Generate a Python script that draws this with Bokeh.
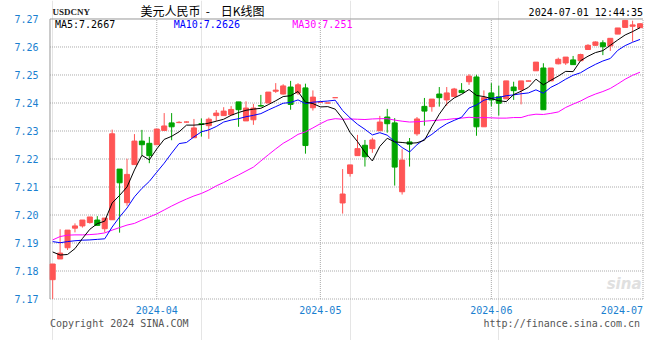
from bokeh.plotting import figure
from bokeh.models import ColumnDataSource, FixedTicker, Range1d, NumeralTickFormatter
from bokeh.core.properties import value
from bokeh.embed import file_html
from bokeh.resources import INLINE

# ---------------- data ----------------
month_ticks = [14, 36, 59]
month_labels = ["2024-04", "2024-05", "2024-06"]
last_month_label = "2024-07"
y_ticks = [7.17, 7.18, 7.19, 7.20, 7.21, 7.22, 7.23, 7.24, 7.25, 7.26, 7.27]

opens = [7.1769, 7.1843, 7.1883, 7.1953, 7.1961, 7.1973, 7.1982, 7.1951, 7.1983, 7.2164,
         7.2044, 7.2180, 7.2264, 7.2256, 7.2251, 7.2302, 7.2329, 7.2330, 7.2332, 7.2276,
         7.2326, 7.2319, 7.2355, 7.2355, 7.2358, 7.2404, 7.2336, 7.2340, 7.2391, 7.2400,
         7.2442, 7.2432, 7.2457, 7.2436, 7.2454, 7.2383, 7.2403, 7.2400, 7.2419, 7.2043,
         7.2148, 7.2212, 7.2249, 7.2237, 7.2301, 7.2350, 7.2329, 7.2083, 7.2261, 7.2290,
         7.2388, 7.2387, 7.2432, 7.2411, 7.2423, 7.2445, 7.2476, 7.2493, 7.2315, 7.2436,
         7.2422, 7.2415, 7.2457, 7.2448, 7.2478, 7.2515, 7.2525, 7.2479, 7.2540, 7.2543,
         7.2554, 7.2551, 7.2591, 7.2606, 7.2615, 7.2604, 7.2646, 7.2670, 7.2674, 7.2669]
highs = [7.1825, 7.1949, 7.1946, 7.1970, 7.1982, 7.1993, 7.1996, 7.1989, 7.2305, 7.2164,
         7.2201, 7.2289, 7.2304, 7.2279, 7.2307, 7.2364, 7.2364, 7.2335, 7.2334, 7.2343,
         7.2345, 7.2348, 7.2375, 7.2385, 7.2389, 7.2404, 7.2406, 7.2397, 7.2429, 7.2439,
         7.2471, 7.2467, 7.2479, 7.2471, 7.2469, 7.2445, 7.2403, 7.2400, 7.2419, 7.2164,
         7.2179, 7.2286, 7.2268, 7.2276, 7.2354, 7.2379, 7.2346, 7.2235, 7.2275, 7.2350,
         7.2418, 7.2414, 7.2457, 7.2457, 7.2454, 7.2471, 7.2503, 7.2501, 7.2445, 7.2471,
         7.2462, 7.2479, 7.2476, 7.2479, 7.2480, 7.2546, 7.2542, 7.2525, 7.2562, 7.2564,
         7.2568, 7.2576, 7.2610, 7.2620, 7.2624, 7.2631, 7.2668, 7.2695, 7.2694, 7.2685]
lows = [7.1700, 7.1843, 7.1875, 7.1938, 7.1955, 7.1969, 7.1963, 7.1938, 7.1983, 7.1937,
        7.2033, 7.2180, 7.2213, 7.2185, 7.2251, 7.2302, 7.2267, 7.2328, 7.2330, 7.2276,
        7.2280, 7.2272, 7.2336, 7.2355, 7.2358, 7.2315, 7.2336, 7.2322, 7.2387, 7.2400,
        7.2436, 7.2430, 7.2376, 7.2429, 7.2219, 7.2373, 7.2403, 7.2400, 7.2419, 7.2005,
        7.2137, 7.2212, 7.2173, 7.2222, 7.2301, 7.2294, 7.2105, 7.2073, 7.2173, 7.2283,
        7.2319, 7.2369, 7.2387, 7.2390, 7.2423, 7.2436, 7.2465, 7.2283, 7.2315, 7.2388,
        7.2355, 7.2415, 7.2411, 7.2395, 7.2478, 7.2515, 7.2376, 7.2479, 7.2538, 7.2536,
        7.2537, 7.2551, 7.2591, 7.2604, 7.2571, 7.2586, 7.2646, 7.2670, 7.2619, 7.2669]
closes = [7.1825, 7.1864, 7.1946, 7.1961, 7.1982, 7.1993, 7.1963, 7.1989, 7.2290, 7.2115,
          7.2145, 7.2264, 7.2251, 7.2212, 7.2307, 7.2318, 7.2315, 7.2331, 7.2332, 7.2311,
          7.2324, 7.2342, 7.2364, 7.2371, 7.2377, 7.2376, 7.2382, 7.2382, 7.2389, 7.2439,
          7.2446, 7.2461, 7.2395, 7.2465, 7.2248, 7.2421, 7.2403, 7.2400, 7.2419, 7.2075,
          7.2179, 7.2237, 7.2208, 7.2268, 7.2332, 7.2326, 7.2171, 7.2196, 7.2253, 7.2343,
          7.2371, 7.2414, 7.2419, 7.2436, 7.2450, 7.2437, 7.2496, 7.2315, 7.2419, 7.2411,
          7.2399, 7.2479, 7.2444, 7.2479, 7.2479, 7.2546, 7.2376, 7.2525, 7.2556, 7.2564,
          7.2537, 7.2573, 7.2606, 7.2618, 7.2601, 7.2631, 7.2668, 7.2695, 7.2679, 7.2683]

ma5 = [7.1868, 7.1857, 7.1859, 7.1880, 7.1916, 7.1949, 7.1969, 7.1978, 7.2043, 7.2070,
       7.2100, 7.2161, 7.2213, 7.2197, 7.2236, 7.2270, 7.2281, 7.2297, 7.2321, 7.2321,
       7.2323, 7.2328, 7.2335, 7.2342, 7.2356, 7.2366, 7.2374, 7.2378, 7.2381, 7.2394,
       7.2408, 7.2423, 7.2426, 7.2441, 7.2403, 7.2398, 7.2386, 7.2387, 7.2378, 7.2344,
       7.2295, 7.2262, 7.2224, 7.2193, 7.2245, 7.2274, 7.2261, 7.2259, 7.2256, 7.2258,
       7.2267, 7.2315, 7.2360, 7.2397, 7.2418, 7.2431, 7.2448, 7.2427, 7.2423, 7.2416,
       7.2408, 7.2405, 7.2430, 7.2442, 7.2456, 7.2485, 7.2465, 7.2481, 7.2496, 7.2513,
       7.2512, 7.2551, 7.2567, 7.2580, 7.2587, 7.2606, 7.2625, 7.2643, 7.2655, 7.2669]
ma10 = [7.1905, 7.1901, 7.1905, 7.1908, 7.1910, 7.1911, 7.1913, 7.1915, 7.1957, 7.1993,
        7.2025, 7.2065, 7.2095, 7.2120, 7.2153, 7.2185, 7.2221, 7.2255, 7.2259, 7.2279,
        7.2297, 7.2304, 7.2316, 7.2332, 7.2339, 7.2344, 7.2351, 7.2356, 7.2362, 7.2375,
        7.2387, 7.2399, 7.2402, 7.2411, 7.2398, 7.2403, 7.2405, 7.2407, 7.2410, 7.2373,
        7.2347, 7.2324, 7.2306, 7.2286, 7.2294, 7.2285, 7.2262, 7.2241, 7.2225, 7.2251,
        7.2271, 7.2288, 7.2309, 7.2326, 7.2338, 7.2349, 7.2382, 7.2393, 7.2410, 7.2417,
        7.2420, 7.2426, 7.2429, 7.2433, 7.2436, 7.2447, 7.2435, 7.2456, 7.2469, 7.2485,
        7.2499, 7.2508, 7.2524, 7.2538, 7.2550, 7.2559, 7.2588, 7.2605, 7.2617, 7.2627]
ma30 = [7.1911, 7.1923, 7.1928, 7.1929, 7.1929, 7.1930, 7.1932, 7.1936, 7.1946, 7.1955,
        7.1964, 7.1970, 7.1982, 7.1993, 7.2004, 7.2018, 7.2032, 7.2045, 7.2057, 7.2068,
        7.2077, 7.2089, 7.2104, 7.2116, 7.2130, 7.2143, 7.2157, 7.2171, 7.2193, 7.2215,
        7.2236, 7.2256, 7.2271, 7.2288, 7.2297, 7.2311, 7.2326, 7.2339, 7.2344, 7.2342,
        7.2343, 7.2342, 7.2341, 7.2343, 7.2344, 7.2344, 7.2339, 7.2335, 7.2332, 7.2333,
        7.2335, 7.2337, 7.2339, 7.2341, 7.2344, 7.2346, 7.2349, 7.2347, 7.2348, 7.2347,
        7.2346, 7.2346, 7.2348, 7.2348, 7.2356, 7.2360, 7.2359, 7.2363, 7.2368, 7.2384,
        7.2396, 7.2407, 7.2421, 7.2432, 7.2441, 7.2452, 7.2468, 7.2485, 7.2499, 7.2510]

symbol = "USDCNY"
title_text = "美元人民币\u00a0\u00a0-\u00a0\u00a0\u00a0\u00a0日K线图"
timestamp = "2024-07-01 12:44:35"
ma_texts = ["MA5:7.2667", "MA10:7.2626", "MA30:7.251"]
footer_left = "Copyright 2024 SINA.COM"
footer_right = "http://finance.sina.com.cn"

# ---------------- styling / layout ----------------
RED = "#ff5555"
GREEN = "#00a400"
AXIS_BLUE = "#1a7fd0"
GRID = "#aaaaaa"
BORDER = "#999999"
MONO = "DejaVu Sans Mono"

# chart box in data units (x: candle slots, y: price)
XL, XR = -0.36, 79.40
YB, YT = y_ticks[0], y_ticks[-1]

xs = list(range(len(closes)))
colors = [RED if c >= o else GREEN for o, c in zip(opens, closes)]
tops = [max(o, c) for o, c in zip(opens, closes)]
bots = [min(o, c) for o, c in zip(opens, closes)]

src = ColumnDataSource(dict(x=xs, o=opens, h=highs, l=lows, c=closes,
                            top=tops, bot=bots, color=colors,
                            ma5=ma5, ma10=ma10, ma30=ma30))

p = figure(width=644, height=340,
           x_range=Range1d(-0.8307, 79.60), y_range=Range1d(7.155179, 7.276607),
           output_backend="svg", toolbar_location=None, x_axis_location=None,
           min_border_left=46, min_border_right=0,
           min_border_top=0, min_border_bottom=0)
p.title.visible = False
p.background_fill_color = "white"
p.border_fill_color = "white"
p.outline_line_color = None

# y axis (labels only; the chart box is drawn below)
p.yaxis.ticker = FixedTicker(ticks=y_ticks)
p.yaxis.formatter = NumeralTickFormatter(format="0.00")
p.yaxis.axis_line_color = None
p.yaxis.major_tick_line_color = None
p.yaxis.minor_tick_line_color = None
p.yaxis.major_label_text_font = MONO
p.yaxis.major_label_text_font_size = "10px"
p.yaxis.major_label_text_color = AXIS_BLUE
p.yaxis.major_label_standoff = 2
p.ygrid.visible = False

# dotted grid inside the chart box
inner_y = y_ticks[1:-1]
p.segment(x0=[XL] * len(inner_y), y0=inner_y, x1=[XR] * len(inner_y), y1=inner_y,
          line_color=GRID, line_dash="1 1", line_width=1)
p.segment(x0=month_ticks, y0=[YB] * len(month_ticks), x1=month_ticks, y1=[YT] * len(month_ticks),
          line_color=GRID, line_dash="1 1", line_width=1)
# box: dotted bottom/right, solid top/left
p.segment(x0=[XL, XR], y0=[YB, YB], x1=[XR, XR], y1=[YB, YT],
          line_color=GRID, line_dash="1 1", line_width=1)
p.segment(x0=[XL, XL], y0=[YT, YB], x1=[XR, XL], y1=[YT, YT],
          line_color=BORDER, line_width=1)

# candles
p.segment(x0="x", y0="l", x1="x", y1="h", source=src, line_color="color", line_width=1)
p.vbar(x="x", width=0.68, top="top", bottom="bot", source=src,
       fill_color="color", line_color="color", line_width=1)

# moving averages
p.line("x", "ma30", source=src, line_color="#ff00ff", line_width=1)
p.line("x", "ma10", source=src, line_color="#0000ff", line_width=1)
p.line("x", "ma5", source=src, line_color="#000000", line_width=1)


def txt(x, y, s, font=MONO, size="10px", color="#000000", align="left", style="normal"):
    p.text(x=[x], y=[y], text=[s], text_font=value(font), text_font_size=size,
           text_color=color, text_align=align, text_baseline="middle",
           text_font_style=style)


# header
txt(-0.02, 7.27243, symbol, font="Liberation Serif", size="9px", color="#222222", style="bold")
txt(11.8, 7.27321, title_text, font="Noto Sans CJK SC", size="12px")
txt(XR, 7.27243, timestamp, align="right")

# MA legend
for xx, t, col in zip([0.31, 16.28, 32.22], ma_texts, ["#000000", "#0000ff", "#ff00ff"]):
    txt(xx, 7.26821, t, color=col)

# month labels
for t, lab in zip(month_ticks, month_labels):
    txt(t, 7.16625, lab, color=AXIS_BLUE, align="center")
txt(XR, 7.16625, last_month_label, color=AXIS_BLUE, align="right")

# footer
txt(XL, 7.16125, footer_left, color="#555555")
txt(79.0, 7.16125, footer_right, color="#555555", align="right")

# watermark
txt(79.2, 7.1752, "sina", font="DejaVu Sans", size="15px", color="#e0e0e0",
    align="right", style="bold italic")

open("out.html", "w").write(file_html(p, INLINE))
